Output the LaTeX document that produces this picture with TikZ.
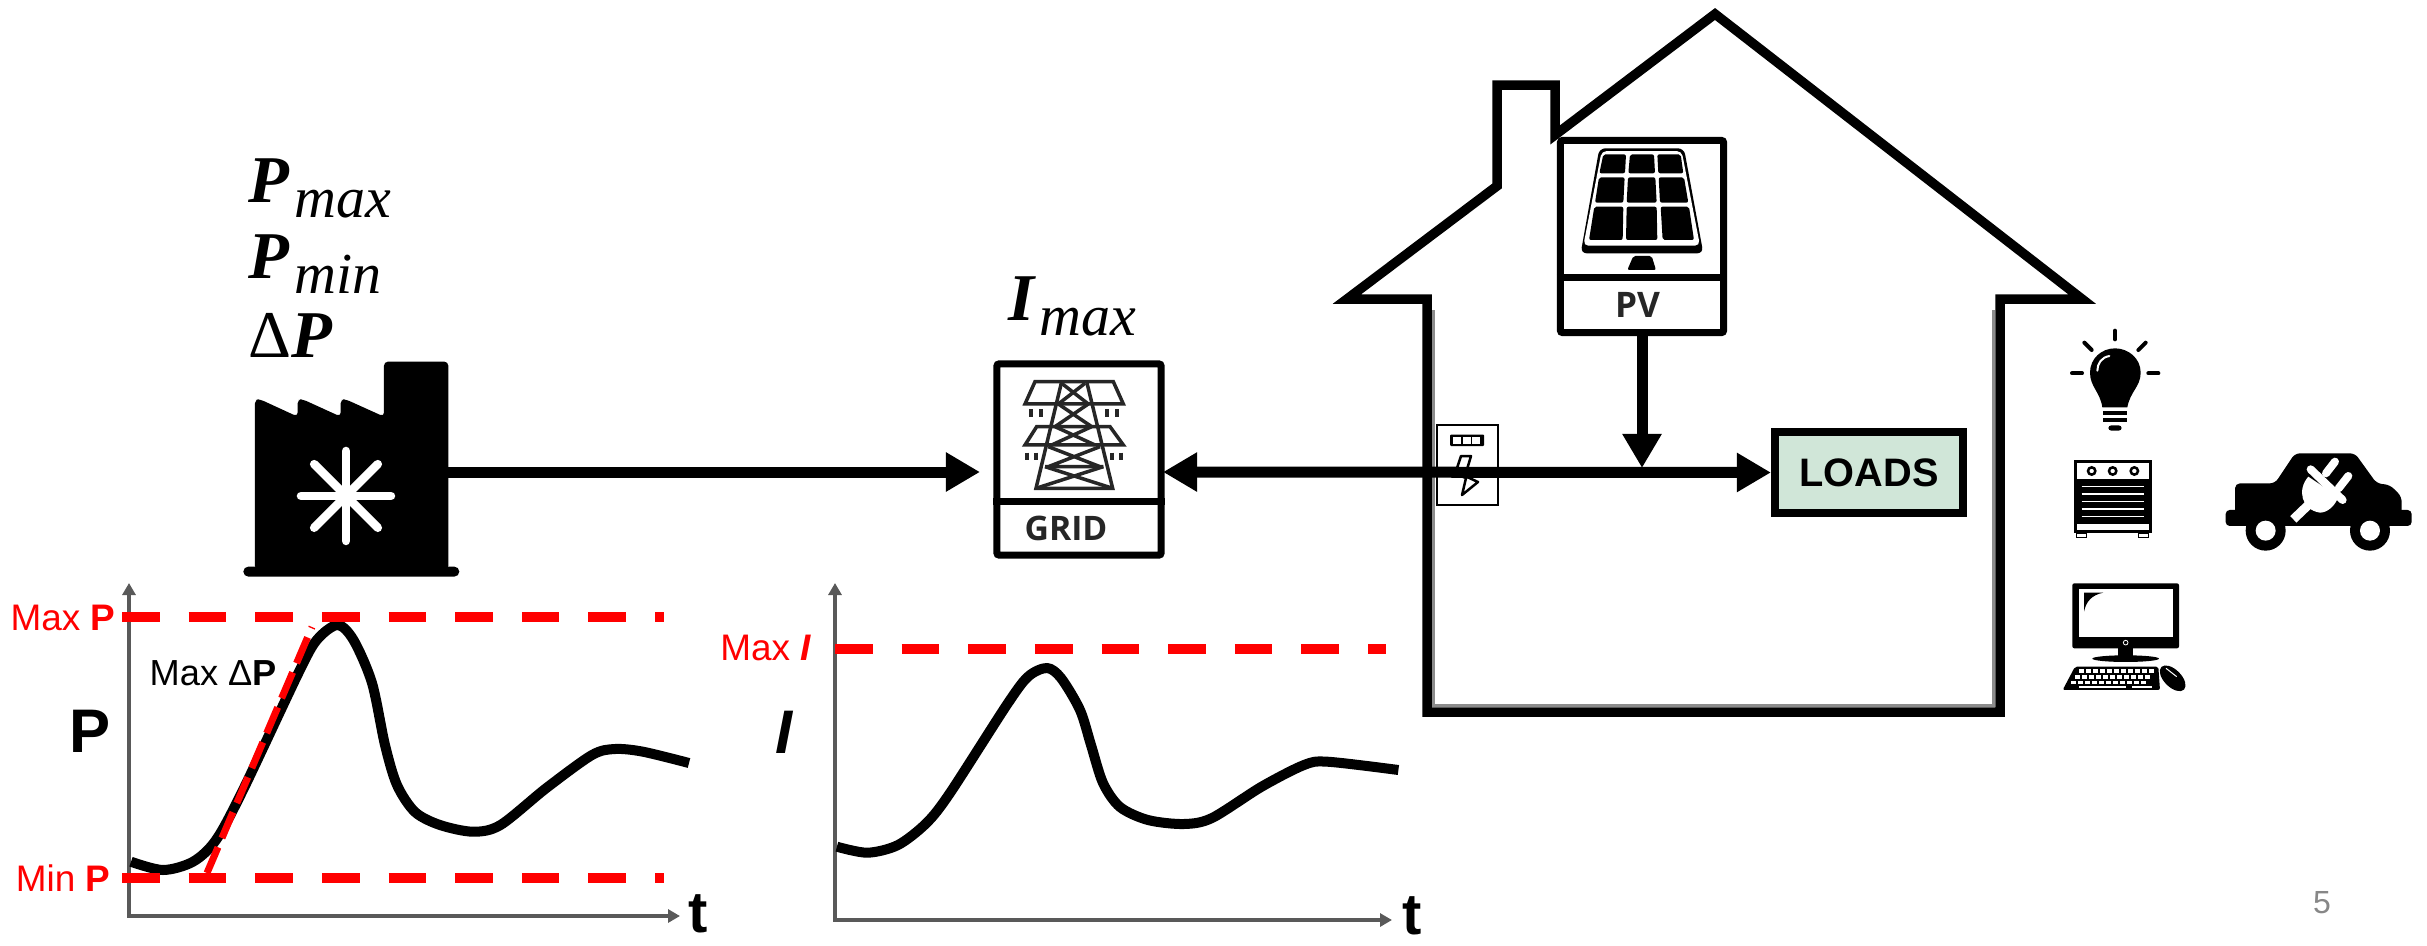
\documentclass[tikz,border=0pt]{standalone}
\usepackage{fontspec}
\setmainfont{Liberation Sans}
\newfontfamily\eqfont{Liberation Serif}
\newfontfamily\tagfont{Open Sans}
\usetikzlibrary{arrows.meta}
\definecolor{loadsgreen}{HTML}{D0E6D8}
\newcommand{\eqsym}[2]{{\eqfont\fontsize{19}{21}\selectfont\bfseries\itshape #1}\kern.05cm\raisebox{-.15cm}{\eqfont\fontsize{16.5}{18}\selectfont\itshape #2}}
\tikzset{
	flowline/.style={line width=.11cm, draw=black},
	flowtip/.style={flowline, -{Triangle[length=.34cm,width=.37cm]}},
	flowboth/.style={flowline, {Triangle[length=.34cm,width=.37cm]}-{Triangle[length=.34cm,width=.37cm]}},
	axisline/.style={line width=.035cm, draw=black!65, {Triangle[length=.12cm,width=.13cm]}-{Triangle[length=.12cm,width=.13cm]}},
	limitline/.style={line width=.1cm, draw=red, dash pattern=on .376cm off .29cm},
	curveline/.style={line width=.1cm, line join=round},
	redtext/.style={text=red, font=\fontsize{10.5}{12}\selectfont, inner sep=0pt},
	axistext/.style={font=\fontsize{17.5}{20}\selectfont\bfseries, inner sep=0pt},
	timetext/.style={font=\fontsize{16.5}{18}\selectfont\bfseries, inner sep=0pt},
	eqtext/.style={anchor=base west, inner sep=0pt},
	tagbox/.style={draw=black, line width=.07cm, rounded corners=.02cm, fill=white, inner sep=0pt},
	tagtext/.style={font=\tagfont\bfseries\fontsize{9.6}{11}\selectfont, text=black!85, inner sep=0pt}
}
\begin{document}
\begin{tikzpicture}[x=.01cm, y=-.01cm]
	\useasboundingbox (0,0) rectangle (2427,945);

	\node[eqtext] (pmax) at (248,202) {\eqsym{P}{max}};
	\node[eqtext] (pmin) at (248,278) {\eqsym{P}{min}};
	\node[eqtext] (dp) at (248,357) {{\eqfont\fontsize{19}{21}\selectfont Δ}{\eqfont\fontsize{19}{21}\selectfont\bfseries\itshape P}};
	\node[eqtext] (imax) at (1008,320) {\eqsym{I}{max}};

	\begin{scope}[shift={(220,130)}, scale=.3333]
		\fill[rounded corners=.04cm] (105,1320) -- (105,808) -- (120,808) -- (233,860) -- (233,808) -- (248,808) -- (362,860) -- (362,808) -- (377,808) -- (492,860) -- (492,695) -- (685,695) -- (685,1320) -- cycle;
		\fill[rounded corners=.05cm] (70,1310) rectangle (718,1340);
		\foreach \a in {0,45,90,135} {
			\draw[white, line width=.085cm, line cap=round] (378,1098) ++(\a:135) -- ++(\a+180:270);
		}
	\end{scope}

	\node[tagbox, minimum width=1.64cm, minimum height=1.91cm] (grid) at (1079,459.5) {};
	\draw[line width=.07cm] (grid.west |- 0,501) -- (grid.east |- 0,501);
	\node[tagtext] (gridtext) at (1066,528) {GRID};
	\begin{scope}[shift={(950,280)}, scale=.3333, line width=.035cm, draw=black!85]
		\draw (255,305) -- (490,305) -- (520,372) -- (225,372) -- cycle;
		\draw (260,440) -- (480,440) -- (520,495) -- (225,495) -- cycle;
		\draw (335,305) -- (258,625) -- (488,625) -- (410,305);
		\draw (335,310) -- (415,372) (405,310) -- (325,372);
		\draw (325,372) -- (425,440) (415,372) -- (315,440);
		\draw (315,440) -- (435,495) (425,440) -- (305,495);
		\draw (295,500) -- (450,560) (450,500) -- (295,560) (285,560) -- (460,560);
		\draw (285,560) -- (488,625) (460,560) -- (258,625);
		\foreach \i in {242,272,470,500} {
			\draw[line width=.04cm] (\i,388) -- (\i,412);
		}
		\foreach \i in {232,258,485,512} {
			\draw[line width=.04cm] (\i,518) -- (\i,540);
		}
	\end{scope}

	\draw[line width=.095cm, line join=miter] (1427,712) -- (1427,299) -- (1347,299) -- (1497,186) -- (1497,85) -- (1555,85) -- (1555,135) -- (1715,14) -- (2082,299) -- (2000,299) -- (2000,712) -- cycle;
	\draw[line width=.03cm, draw=black!45] (1433.5,310) -- (1433.5,705.5) -- (1993.5,705.5) -- (1993.5,310);

	\node[tagbox, minimum width=1.63cm, minimum height=1.92cm] (pv) at (1642,236.5) {};
	\draw[line width=.07cm] (pv.west |- 0,277) -- (pv.east |- 0,277);
	\node[tagtext, font=\tagfont\bfseries\fontsize{10}{12}\selectfont] (pvtext) at (1637.5,305) {PV};
	\begin{scope}[shift={(1540,120)}, scale=.3333]
		\fill[rounded corners=.06cm] (178,85) -- (432,85) -- (490,400) -- (122,400) -- cycle;
		\fill[white, rounded corners=.05cm] (185,93) -- (425,93) -- (480,377) -- (130,377) -- cycle;
		\fill[rounded corners=.02cm] (190,103) -- (258,103) -- (255,160) -- (178,160) -- cycle;
		\fill[rounded corners=.02cm] (270,103) -- (342,103) -- (345,160) -- (265,160) -- cycle;
		\fill[rounded corners=.02cm] (352,103) -- (422,103) -- (430,160) -- (355,160) -- cycle;
		\fill[rounded corners=.02cm] (177,172) -- (254,172) -- (250,248) -- (165,248) -- cycle;
		\fill[rounded corners=.02cm] (264,172) -- (346,172) -- (350,248) -- (260,248) -- cycle;
		\fill[rounded corners=.02cm] (356,172) -- (432,172) -- (445,248) -- (360,248) -- cycle;
		\fill[rounded corners=.02cm] (163,260) -- (250,260) -- (248,360) -- (147,360) -- cycle;
		\fill[rounded corners=.02cm] (260,260) -- (350,260) -- (352,360) -- (258,360) -- cycle;
		\fill[rounded corners=.02cm] (362,260) -- (447,260) -- (462,360) -- (368,360) -- cycle;
		\fill[rounded corners=.02cm] (280,408) -- (335,408) -- (348,450) -- (262,450) -- cycle;
	\end{scope}

	\draw[line width=.02cm, fill=white] (1437,425) rectangle (1497.5,505);
	\fill[rounded corners=.01cm] (1450,434.5) rectangle (1484,446);
	\foreach \i in {1453,1462.5,1472} {
		\fill[white] (\i,437) rectangle ++(8,6.5);
	}
	\draw[line width=.025cm, line join=round] (1461,456) -- (1471,456) -- (1465,476) -- (1478,482) -- (1462,495) -- (1466,478) -- (1455,474) -- cycle;

	\node[draw=black, line width=.08cm, fill=loadsgreen, minimum width=1.88cm, minimum height=.81cm, inner sep=0pt, font=\fontsize{11.3}{14}\selectfont\bfseries] (loads) at (1869,472.5) {LOADS};

	\coordinate (factoryout) at (448,472);
	\coordinate (gridleft) at (980,472);
	\coordinate (gridright) at (1163,472);
	\coordinate (bus) at (1642,468);
	\draw[flowtip] (factoryout) -- (gridleft);
	\draw[flowboth] (gridright) -- (loads.west);
	\draw[flowtip] (pv.south) -- (bus);

	\begin{scope}[shift={(2040,320)}, scale=.3333]
		\fill (187,262) .. controls (180,215) and (150,200) .. (150,158) .. controls (150,115) and (185,85) .. (225,85) .. controls (265,85) and (302,115) .. (302,158) .. controls (302,200) and (270,215) .. (262,262) -- cycle;
		\draw[white, line width=.02cm, line cap=round] (172,152) .. controls (172,130) and (185,112) .. (208,108);
		\fill (189,272) rectangle (261,285);
		\fill (189,293) rectangle (261,306);
		\fill[rounded corners=.03cm] (205,316) rectangle (245,332);
		\foreach \xa/\ya/\xb/\yb in {225/32/225/58, 133/68/155/90, 317/68/295/90, 96/160/126/160, 325/160/355/160} {
			\draw[line width=.04cm, line cap=round] (\xa,\ya) -- (\xb,\yb);
		}

		\fill (102,420) rectangle (335,640);
		\fill[white] (110,428) rectangle (328,478);
		\foreach \i in {155,218,283} {
			\draw[line width=.025cm, fill=white] (\i,453) circle (11);
		}
		\foreach \i in {500,522,545,567,590} {
			\draw[white, line width=.013cm] (125,\i) -- (312,\i);
		}
		\fill[white] (110,612) rectangle (328,630);
		\draw[line width=.015cm, fill=white] (110,640) rectangle (140,652);
		\draw[line width=.015cm, fill=white] (295,640) rectangle (325,652);

		\fill[rounded corners=.04cm] (557,570) rectangle (1115,618);
		\fill[rounded corners=.05cm] (585,590) -- (585,490) -- (705,490) -- (765,400) -- (945,400) -- (1010,490) -- (1050,495) -- (1085,530) -- (1085,590) -- cycle;
		\foreach \i in {677,990} {
			\fill (\i,632) circle (60);
			\fill[white] (\i,632) circle (30);
		}
		\draw[white, line width=.08cm, line cap=round] (885,425) -- (858,460);
		\draw[white, line width=.08cm, line cap=round] (925,468) -- (896,505);
		\draw[white, line width=.08cm, line cap=round] (812,448) -- (908,540);
		\fill[white] (805,470) .. controls (770,510) and (785,570) .. (840,578) .. controls (860,578) and (885,560) .. (895,530) -- cycle;
		\draw[white, line width=.09cm] (805,555) -- (760,598);

		\fill[rounded corners=.02cm] (97,790) rectangle (417,985);
		\fill[white] (118,806) rectangle (398,952);
		\fill (132,818) -- (190,818) .. controls (155,825) and (138,845) .. (132,875) -- cycle;
		\draw[white, line width=.008cm] (257,968) circle (7);
		\fill (235,985) rectangle (278,1012);
		\fill (257,1016) ellipse (100 and 10);
		\fill[rounded corners=.02cm] (105,1040) -- (355,1040) -- (360,1110) -- (68,1110) -- cycle;
		\foreach \r/\s in {1048/118, 1066/104, 1083/92} {
			\foreach \k in {0,...,10} {
				\fill[white] (\s+\k*21,\r) rectangle ++(15,10);
			}
		}
		\fill[white] (118,1097) rectangle ++(140,6);
		\fill[white] (275,1097) rectangle ++(60,6);
		\fill (398,1075) ellipse[x radius=48, y radius=26, rotate=-45];
		\draw[white, line width=.01cm] (378,1045) -- (410,1070);
	\end{scope}

	\node[text=black!47, font=\fontsize{9.1}{11}\selectfont, inner sep=0pt] (pagenum) at (2322,903) {5};

	\draw[axisline] (129,583) -- (129,916) -- (680,916);
	\draw[curveline] plot[smooth] coordinates {(131,861.7) (163,870) (193,861.7) (216,840) (243,790) (298.4,673) (316.8,640) (337.5,625) (353.5,640) (372,683) (385,745) (397,785) (415,812) (440,825) (473,831.7) (500.5,825) (546.4,788) (592,755) (615,749) (643,751.7) (689,763)};
	\draw[limitline] (122,617) -- (664,617);
	\draw[limitline] (122,878) -- (664,878);
	\draw[draw=red, line width=.07cm, dash pattern=on .28cm off .1cm] (207,873) -- (312,627);
	\node[redtext, anchor=east] (maxp) at (116,618) {Max \textbf{P}};
	\node[redtext, anchor=east] (minp) at (111,878) {Min \textbf{P}};
	\node[font=\fontsize{10.3}{12}\selectfont, inner sep=0pt, anchor=west] (maxdp) at (149,673) {Max Δ\textbf{P}};
	\node[axistext] (paxis) at (90,731) {P};
	\node[timetext] (taxisa) at (698,914) {t};

	\draw[axisline] (835,583) -- (835,920) -- (1392,920);
	\draw[curveline] plot[smooth] coordinates {(836.9,846.7) (867.5,852.7) (898,845) (926.5,823) (950,793) (1006.7,705) (1028,676.7) (1046.9,668) (1061,678) (1080,710) (1091,745) (1103,783) (1120,807) (1148,820) (1183.7,824) (1212,818) (1261.6,786.7) (1304,765) (1327.6,761.7) (1398.4,770)};
	\draw[limitline] (835,649) -- (1386,649);
	\node[redtext, anchor=east] (maxi) at (812,648) {Max \textbf{\textit{I}}};
	\node[axistext, font=\fontsize{17.5}{20}\selectfont\bfseries\itshape] (iaxis) at (784,732) {I};
	\node[timetext] (taxisb) at (1412,916) {t};
\end{tikzpicture}
\end{document}
